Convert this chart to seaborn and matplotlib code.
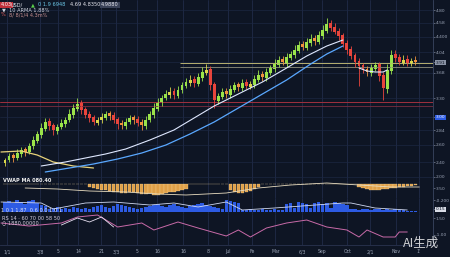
import numpy as np
import matplotlib
matplotlib.use("Agg")
import matplotlib.pyplot as plt
import seaborn as sns

# ---------------- data ----------------
opens = [17, 20, 25, 22, 26, 31, 28, 34, 39, 45,
         51, 59, 55, 49, 53, 56, 60, 65, 71, 77,
         71, 66, 63, 57, 60, 62, 67, 65, 61, 57,
         54, 58, 63, 61, 58, 54, 60, 65, 71, 77,
         82, 85, 89, 84, 90, 94, 97, 101, 96, 102,
         107, 111, 96, 79, 83, 89, 85, 90, 96, 92,
         98, 93, 95, 100, 106, 102, 107, 111, 115, 121,
         117, 122, 125, 129, 136, 132, 137, 142, 138, 144,
         149, 157, 153, 149, 145, 137, 131, 125, 119, 115,
         111, 107, 111, 116, 105, 91, 109, 126, 123, 117,
         121, 116, 120]
closes = [20, 24, 22, 27, 30, 28, 34, 40, 46, 52,
          58, 54, 50, 53, 57, 60, 66, 72, 76, 70,
          65, 62, 58, 60, 63, 66, 64, 60, 56, 55,
          58, 62, 60, 57, 55, 60, 66, 72, 78, 82,
          86, 88, 85, 90, 95, 98, 100, 97, 103, 108,
          110, 95, 80, 84, 88, 86, 91, 95, 93, 97,
          94, 96, 101, 105, 103, 108, 112, 116, 120, 118,
          123, 126, 130, 135, 133, 138, 141, 139, 145, 150,
          156, 152, 148, 144, 136, 130, 124, 118, 114, 110,
          108, 112, 115, 104, 92, 110, 125, 122, 118, 120,
          117, 119, 118]
upper_wick = [2, 3, 2, 4, 3, 2, 3, 4, 3, 5,
              4, 3, 2, 3, 4, 3, 5, 4, 6, 3,
              2, 3, 2, 3, 4, 3, 2, 3, 2, 3,
              4, 3, 2, 3, 3, 4, 3, 5, 4, 3,
              4, 5, 3, 4, 3, 4, 5, 3, 4, 5,
              6, 3, 2, 3, 4, 3, 4, 3, 2, 4,
              3, 3, 4, 5, 3, 4, 3, 5, 4, 3,
              4, 3, 5, 4, 3, 4, 5, 3, 4, 5,
              6, 3, 4, 3, 2, 3, 3, 2, 3, 2,
              3, 4, 3, 2, 3, 6, 5, 4, 3, 5,
              4, 3, 4]
lower_wick = [3, 2, 4, 2, 3, 4, 2, 3, 2, 3,
              2, 4, 5, 3, 2, 3, 2, 3, 2, 4,
              3, 4, 3, 2, 3, 2, 4, 3, 5, 4,
              3, 2, 4, 3, 5, 3, 2, 3, 2, 3,
              2, 3, 4, 2, 3, 2, 3, 4, 2, 3,
              2, 5, 8, 3, 2, 4, 3, 2, 4, 3,
              3, 2, 3, 2, 4, 3, 2, 3, 2, 3,
              4, 2, 3, 2, 3, 2, 3, 4, 2, 3,
              2, 3, 2, 4, 3, 4, 3, 5, 20, 3,
              4, 3, 2, 5, 12, 4, 3, 4, 3, 2,
              3, 2, 3]

# moving averages (main panel)
ma_white_idx = [9, 15, 20, 25, 30, 36, 42, 47, 52, 58, 64, 70, 75, 80, 84]
ma_white = [14, 18, 22, 26, 31, 40, 50, 62, 74, 86, 98, 112, 124, 134, 140]
ma_blue_idx = [10, 16, 22, 28, 34, 40, 46, 52, 58, 64, 70, 76, 80, 84]
ma_blue = [8, 12, 16, 21, 27, 35, 46, 58, 72, 86, 100, 116, 126, 134]
ma_tail_idx = [88, 90, 92, 94, 95]
ma_tail = [112, 109, 108, 108, 110]
ma_yellow_idx = [-1, 4, 8, 12, 17, 22]
ma_yellow = [28, 29, 25, 18, 14, 12]

# MACD-like panel
macd_hist = [0, 0, 0, 0, 0, 0, 0, 0, 0, 0,
             0, 0, 0, 0, 0, 0, 0, 0, 0, 0,
             0, -3, -4, -5, -6, -6, -7, -8, -8, -9,
             -9, -8, -8, -9, -10, -10, -9, -11, -11, -10,
             -9, -8, -8, -7, -6, -5, 0, 0, 0, 0,
             0, 0, 0, 0, 0, 0, -6, -8, -9, -9,
             -8, -7, -5, -3, 0, 0, 0, 0, 0, 0,
             0, 0, 0, 0, 0, 0, 0, 0, 0, 0,
             0, 0, 0, 0, 0, 0, 0, 0, -3, -4,
             -5, -6, -6, -6, -5, -5, -4, -4, -3, -3,
             -2, -2, -1]
macd_line_idx = [5, 13, 21, 30, 38, 45, 55, 63, 71, 80, 88, 96, 103]
macd_line = [-4, -5, -7, -8, -10, -11, -9, -4, -1, 1, -1, -3, -3]

# volume panel
volume = [10, 11, 9, 12, 10, 8, 11, 12, 9, 7,
          6, 3, 4, 5, 3, 4, 3, 5, 4, 3,
          4, 3, 5, 6, 7, 5, 4, 6, 8, 7,
          6, 5, 4, 3, 4, 5, 6, 7, 8, 6,
          5, 7, 8, 6, 5, 4, 6, 7, 8, 9,
          7, 6, 5, 4, 3, 12, 11, 10, 9, 2,
          2, 3, 2, 2, 3, 2, 2, 3, 2, 2,
          8, 9, 4, 10, 9, 8, 4, 9, 10, 8,
          9, 4, 10, 9, 8, 7, 3, 3, 2, 3,
          3, 2, 3, 3, 2, 3, 2, 3, 2, 2,
          1, 1, 1]
vol_line_idx = [-1, 9, 12, 20, 27, 30, 36, 42, 48, 55, 59, 67, 84, 86, 92, 100]
vol_line = [10, 9, 3, 9, 10, 9, 7, 9, 5, 10, 2, 4, 9, 9, 4, 2]

# oscillator panel
rsi_idx = [-1, 6, 14, 18, 23, 28, 34, 37, 43, 48, 55, 58, 61, 65, 70, 75, 80, 85, 88, 90, 94, 97, 98, 100]
rsi = [27, 24, 27, 33, 35, 23, 27, 20, 28, 22, 14, 20, 13, 22, 27, 30, 23, 20, 13, 20, 13, 13, 18, 18]
rsi2_idx = [14, 18, 21, 24, 27]
rsi2 = [25, 32, 28, 33, 23]

# axis labels
x_labels = ["1/1", "3/8", "5", "14", "21", "3/3", "5", "16", "16", "8",
            "Jul", "Fe", "Mar", "6/3", "Sep", "Oct", "2/1", "Nov", "1'"]
price_labels = ["4.80", "4.58", "4.400", "4.04", "3.91", "3.68", "3.30", "3.00",
                "2.84", "2.60", "2.40", "2.00"]

# ---------------- layout / style ----------------
BG = "#0e1524"
W, H = 450, 257
AXW = 433
sns.set_style("dark")
plt.rcParams["font.family"] = ["DejaVu Sans"]

fig = plt.figure(figsize=(4.5, 2.57), dpi=100, facecolor=BG)


def add_ax(top, bottom):
    return fig.add_axes([0, 1 - bottom / H, AXW / W, (bottom - top) / H], facecolor=BG)


ax = add_ax(0, 180)
ax2 = add_ax(180, 198)
ax3 = add_ax(198, 214)
ax4 = add_ax(214, 245)

tick_pos = [0.5, 8.7, 13.2, 18.2, 23.9, 27.6, 32.8, 37.8, 44.3, 50.5,
            55.5, 61.5, 67.2, 73.9, 78.9, 85.1, 90.8, 97.1, 102.8]
XMIN, XMAX = -1.25, 106.4
price_pos = [170, 157, 143, 128, 118, 107, 82, 63, 50, 35, 18, 3]

for a in (ax, ax2, ax3, ax4):
    a.set_xlim(XMIN, XMAX)
    a.set_xticks(tick_pos)
    a.grid(True, axis="x", color="#243050", lw=0.5)
    for s in ("left", "top"):
        a.spines[s].set_visible(False)
    a.spines["right"].set_color("#3a4560")
    a.spines["right"].set_linewidth(0.6)
    a.spines["bottom"].set_color("#2a3350")
    a.spines["bottom"].set_linewidth(0.6)
    a.yaxis.tick_right()
    a.tick_params(axis="y", labelsize=3.2, colors="#9aa3b5", length=1.2, width=0.4, pad=0.8)
    a.tick_params(axis="x", labelbottom=False, length=0)

# ---------------- main candle panel ----------------
o = np.array(opens, float)
c = np.array(closes, float)
idx = np.arange(len(c))
hi = np.maximum(o, c) + np.array(upper_wick)
lo = np.minimum(o, c) - np.array(lower_wick)
body = c - o
cols = []
for b in body:
    if b >= 0:
        cols.append("#9be34a" if b >= 4 else "#d9d64a")
    else:
        cols.append("#e8453c" if b <= -4 else "#f0923e")

ax.set_ylim(0, 180)
ax.set_yticks(price_pos)
ax.set_yticklabels(price_labels)
ax.grid(True, axis="y", color="#1c2742", lw=0.5)

# horizontal levels
ax.axhline(78, color="#a0303e", lw=0.7)
ax.axhline(74, color="#7a2c40", lw=0.6)
ax.hlines([117, 113], 43.5, XMAX, colors=["#b8b070", "#7f8070"], lw=0.7)

ax.vlines(idx, lo, hi, colors=cols, lw=0.6)
ax.bar(idx, body, bottom=o, width=0.72, color=cols, linewidth=0)

sns.lineplot(x=ma_yellow_idx, y=ma_yellow, ax=ax, color="#e8d27a", lw=0.9, sort=False, estimator=None)
sns.lineplot(x=ma_blue_idx, y=ma_blue, ax=ax, color="#5aa8ff", lw=0.9, sort=False, estimator=None)
sns.lineplot(x=ma_white_idx, y=ma_white, ax=ax, color="#dfe8ff", lw=0.8, sort=False, estimator=None)
sns.lineplot(x=ma_tail_idx, y=ma_tail, ax=ax, color="#dfe8ff", lw=0.8, sort=False, estimator=None)

# highlighted price labels
ax.get_yticklabels()[4].set_bbox(dict(boxstyle="square,pad=0.15", fc="#8a93a5", ec="none"))
ax.get_yticklabels()[4].set_color("#0e1524")
ax.get_yticklabels()[7].set_bbox(dict(boxstyle="square,pad=0.15", fc="#2d5be3", ec="none"))
ax.get_yticklabels()[7].set_color("white")

# ---------------- MACD panel ----------------
ax2.set_ylim(-14, 4)
ax2.bar(idx, macd_hist, width=0.85, color="#e0a048", edgecolor="#f6d9a0", linewidth=0.2)
sns.lineplot(x=macd_line_idx, y=macd_line, ax=ax2, color="#e8dcc0", lw=0.6, sort=False, estimator=None)
ax2.set_yticks([-4])
ax2.set_yticklabels(["3.50"])

# ---------------- volume panel ----------------
ax3.set_ylim(-2, 14)
ax3.bar(idx, volume, width=0.85, color="#2d5be3", linewidth=0)
sns.lineplot(x=vol_line_idx, y=vol_line, ax=ax3, color="#cfd8f0", lw=0.6, sort=False, estimator=None)
ax3.set_yticks([12, 3])
ax3.set_yticklabels(["-0.200", "0.15"])
ax3.get_yticklabels()[1].set_bbox(dict(boxstyle="square,pad=0.15", fc="#d8dce6", ec="none"))
ax3.get_yticklabels()[1].set_color("#0e1524")

# ---------------- oscillator panel ----------------
ax4.set_ylim(5, 36)
sns.lineplot(x=rsi_idx, y=rsi, ax=ax4, color="#c86aa8", lw=0.7, sort=False, estimator=None)
sns.lineplot(x=rsi2_idx, y=rsi2, ax=ax4, color="#e6dff0", lw=0.6, sort=False, estimator=None)
ax4.set_yticks([32, 15])
ax4.set_yticklabels(["1.50", "-1.00"])
ax4.set_xticklabels(x_labels)
ax4.tick_params(axis="x", labelbottom=True, labelsize=3.3, colors="#9aa3b5", pad=3)

for a in (ax, ax2, ax3, ax4):
    a.set_xlabel("")
    a.set_ylabel("")


# ---------------- header texts ----------------
def ftxt(x, y, s, **kw):
    fig.text(x / W, 1 - y / H, s, va="center", ha="left", fontsize=3.6, **kw)


ftxt(1, 5, "4.03", color="white", bbox=dict(boxstyle="square,pad=0.15", fc="#c0303a", ec="none"))
ftxt(11, 5, "USD/", color="#e8e8f0")
ftxt(31, 5, "▲", color="#5ad04a")
ftxt(38, 5, "0 1.9 6948", color="#6cc8e8")
ftxt(70, 5, "4.69 4.8350", color="#e8e8f0")
ftxt(101, 5, "4.9880", color="#e8e8f0", bbox=dict(boxstyle="square,pad=0.15", fc="#3a4258", ec="none"))
ftxt(2, 10, "▼  10 ARMA 1.88%", color="#d0d4de")
ftxt(1, 15, "%", color="#e86060")
ftxt(9, 15, "8/ 8/1/4 4.3m%", color="#c89090")

ftxt(3, 180, "VWAP MA 080.40", color="#f0f0f0", fontweight="bold")
ftxt(1, 211, "1 0 1 1.87  0.6 0.0 1.0 1", color="#e0e4ee")
ftxt(2, 218, "RS 14 · 60 70 00 58 50", color="#d8d0e0")
ftxt(2, 223, "○ 1880.00000", color="#d8d0e0")

fig.text(403 / W, 1 - 243 / H, "AI生成", fontsize=9, color="white", alpha=0.8,
         family=["Noto Sans CJK SC", "DejaVu Sans"], va="center", ha="left")

fig.savefig("out.png", dpi=100, facecolor=BG)
